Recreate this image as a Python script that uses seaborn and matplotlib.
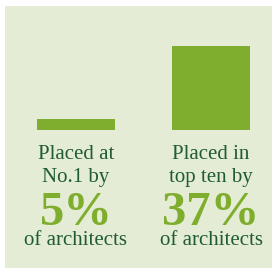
import matplotlib
matplotlib.use("Agg")
import matplotlib.pyplot as plt
import matplotlib.patches as mpatches
import seaborn as sns
import pandas as pd

# data
categories = ["No.1", "Top ten"]
shares = [5, 37]
top_lines = ["Placed at\nNo.1 by", "Placed in\ntop ten by"]
pct_labels = ["5%", "37%"]
bottom_label = "of architects"

BG = "#e4ecd5"
BAR = "#7fad2d"
DARK = "#1f5c30"

W, H = 274, 277
fig = plt.figure(figsize=(W / 100, H / 100), dpi=100)
fig.patch.set_facecolor("white")

# light green panel, kept behind the axes
fig.patches.append(mpatches.Rectangle((5 / W, 1 - 268 / H), 267 / W, 262 / H,
                                      transform=fig.transFigure, facecolor=BG,
                                      edgecolor="none", zorder=-1))

# bars: axes spans panel width, from top of panel to the baseline
ax = fig.add_axes([5 / W, 1 - 130 / H, 267 / W, 124 / H])
ax.patch.set_alpha(0)
df = pd.DataFrame({"cat": categories, "share": shares})
sns.barplot(data=df, x="cat", y="share", color=BAR, saturation=1,
            width=78 / 135, ax=ax)
ax.set_xlim((5 - 76) / 135, (272 - 76) / 135)
ax.set_ylim(0, 124 / 2.27)
ax.axis("off")

serif = ["Liberation Serif", "DejaVu Serif"]
centers = [76, 211]
for cx, top, pct in zip(centers, top_lines, pct_labels):
    l1, l2 = top.split("\n")
    fig.text(cx / W, 1 - 159 / H, l1, ha="center", va="baseline",
             fontsize=15, color=DARK, family=serif)
    fig.text(cx / W, 1 - 182 / H, l2, ha="center", va="baseline",
             fontsize=15, color=DARK, family=serif)
    fig.text(cx / W, 1 - 225 / H, pct, ha="center", va="baseline",
             fontsize=35, fontweight="bold", color=BAR, family=serif)
    fig.text(cx / W, 1 - 245 / H, bottom_label, ha="center", va="baseline",
             fontsize=15, color=DARK, family=serif)

fig.savefig("out.png", dpi=100, facecolor=fig.get_facecolor())
